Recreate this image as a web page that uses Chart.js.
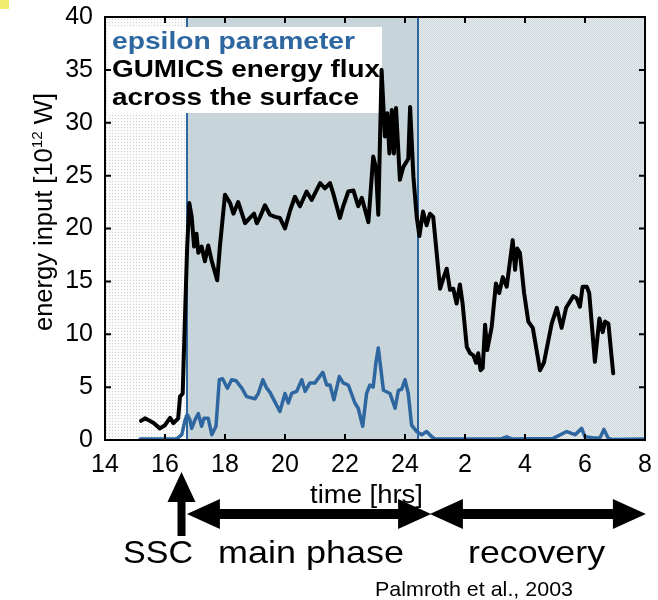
<!DOCTYPE html>
<html>
<head>
<meta charset="utf-8">
<script src="https://cdn.jsdelivr.net/npm/chart.js@4"></script>
<style>
html,body{margin:0;padding:0;background:#ffffff;}
#wrap{width:658px;height:600px;position:relative;}
</style>
</head>
<body>
<div id="wrap"><canvas id="c" width="658" height="600"></canvas></div>
<script>
// ---- data (time in hours; values after midnight continue as 25..32) ----
const gumicsTime = [15.2,15.33,15.61,15.83,16.0,16.17,16.28,16.44,16.5,16.59,16.67,16.74,16.81,16.89,16.97,17.05,17.11,17.22,17.33,17.44,17.56,17.74,17.83,18.0,18.17,18.28,18.44,18.67,18.83,18.97,19.06,19.17,19.33,19.5,19.67,19.83,20.0,20.17,20.33,20.5,20.72,20.89,21.17,21.33,21.5,21.61,21.83,21.94,22.11,22.28,22.44,22.56,22.78,22.94,23.03,23.11,23.22,23.33,23.41,23.48,23.56,23.63,23.7,23.83,23.94,24.11,24.17,24.28,24.39,24.48,24.6,24.72,24.83,24.94,25.17,25.28,25.39,25.5,25.61,25.72,25.83,25.92,26.06,26.17,26.28,26.37,26.44,26.52,26.59,26.67,26.74,26.89,27.03,27.14,27.26,27.39,27.59,27.67,27.74,27.83,27.97,28.11,28.26,28.5,28.63,28.89,29.06,29.22,29.37,29.5,29.61,29.72,29.83,29.92,30.06,30.14,30.33,30.48,30.59,30.67,30.78,30.94];
const gumicsFlux = [1.8,2.05,1.64,1.1,1.4,2.1,1.6,2.05,4.1,4.4,12,18.3,22.4,21.1,18.3,19.5,17.7,18.3,16.9,18.4,16.9,15.1,18.3,23.2,22.4,21.4,22.5,20.5,21.0,21.4,20.5,21.1,22.2,21.3,21.1,21.0,20.0,21.7,23.0,22.1,23.5,22.7,24.3,23.8,24.3,23.3,21.0,22.1,23.5,23.6,22.1,22.9,20.6,26.8,25.8,21.3,35.0,28.7,30.9,27.1,31.2,27.1,31.4,24.6,25.8,26.6,31.5,24.9,21.1,19.3,21.6,20.3,21.4,21.1,14.3,15.3,16.2,14.2,14.3,12.9,14.7,12.9,8.8,8.2,8.0,7.3,8.2,6.6,6.8,10.9,8.5,10.7,14.8,13.9,15.4,14.5,18.9,16.1,18.1,17.7,13.9,11.2,10.6,6.6,7.3,11.0,12.5,10.6,12.5,13.1,13.6,13.4,12.6,14.5,14.5,13.9,7.4,11.5,10.2,11.2,11.0,6.3];

const epsilonTime = [15.17,16.39,16.56,16.67,16.74,16.83,16.89,17.0,17.11,17.22,17.3,17.44,17.56,17.7,17.81,17.92,18.08,18.22,18.37,18.56,18.72,19.0,19.11,19.26,19.39,19.5,19.83,20.0,20.11,20.22,20.39,20.56,20.67,20.83,21.0,21.26,21.39,21.5,21.63,21.81,21.94,22.11,22.33,22.44,22.59,22.72,22.83,22.94,23.03,23.11,23.17,23.28,23.5,23.67,23.78,23.89,24.0,24.11,24.22,24.39,24.56,24.72,24.89,25.0,27.2,27.39,27.55,28.94,29.39,29.67,29.89,30.0,30.3,30.5,30.63,30.78,30.9,32];
const epsilonValue = [0.1,0.1,0.5,1.9,2.4,1.9,1.1,1.9,2.5,1.3,2.05,2.05,0.5,1.3,5.7,5.8,4.9,5.7,5.6,4.9,4.1,3.9,4.4,5.7,4.9,4.5,2.7,4.4,3.5,4.4,4.6,5.7,4.6,5.4,5.4,6.4,5.2,5.2,3.8,6.0,5.4,5.2,3.5,3.0,1.3,4.4,5.2,5.0,7.3,8.7,7.3,4.7,4.4,3.0,4.7,4.8,5.7,4.4,1.4,0.8,0.5,0.8,0.3,0.1,0.1,0.3,0.1,0.15,0.8,0.5,1.1,0.3,0.2,0.2,1.0,0.15,0.05,0.1];

const xTickLabels = ['14','16','18','20','22','24','2','4','6','8'];
const phaseBounds = [14, 16.73, 24.45, 32];   // pre-storm | main phase | recovery
const sscTime = 16.55;

const BLUE = '#2e66a0';
const FONT = "'Liberation Sans', Arial, Helvetica, sans-serif";
Chart.defaults.font.family = FONT;

function makePattern(size, bg, dots) {
  const c = document.createElement('canvas');
  c.width = size; c.height = size;
  const g = c.getContext('2d');
  g.fillStyle = bg; g.fillRect(0, 0, size, size);
  dots.forEach(d => { g.fillStyle = d[2]; g.fillRect(d[0], d[1], 1, 1); });
  return document.getElementById('c').getContext('2d').createPattern(c, 'repeat');
}
const leftFill = makePattern(3, '#fbfbfb', [[1,1,'#cdd2d5']]);
const mainFill = '#c7d4da';
const rightFill = makePattern(2, '#e6ecee', [[0,0,'#cdd7dc'],[1,1,'#cdd7dc']]);

function stretchText(ctx, txt, x, y, font, color, width) {
  ctx.save();
  ctx.font = font; ctx.fillStyle = color;
  ctx.textAlign = 'left'; ctx.textBaseline = 'alphabetic';
  const w = ctx.measureText(txt).width;
  ctx.translate(x, y); ctx.scale(width / w, 1);
  ctx.fillText(txt, 0, 0);
  ctx.restore();
}

function doubleArrow(ctx, x0, x1, yc) {
  const hl = 33, hh = 15, st = 5;
  ctx.beginPath();
  ctx.moveTo(x0, yc);
  ctx.lineTo(x0 + hl, yc - hh); ctx.lineTo(x0 + hl, yc - st);
  ctx.lineTo(x1 - hl, yc - st); ctx.lineTo(x1 - hl, yc - hh);
  ctx.lineTo(x1, yc);
  ctx.lineTo(x1 - hl, yc + hh); ctx.lineTo(x1 - hl, yc + st);
  ctx.lineTo(x0 + hl, yc + st); ctx.lineTo(x0 + hl, yc + hh);
  ctx.closePath(); ctx.fill();
}

const decorPlugin = {
  id: 'decor',
  beforeDatasetsDraw(chart) {
    const { ctx, chartArea: a, scales: { x } } = chart;
    const fills = [leftFill, mainFill, rightFill];
    ctx.save();
    for (let i = 0; i < 3; i++) {
      const x0 = x.getPixelForValue(phaseBounds[i]);
      const x1 = x.getPixelForValue(phaseBounds[i + 1]);
      ctx.fillStyle = fills[i];
      ctx.fillRect(x0, a.top, x1 - x0, a.bottom - a.top);
    }
    ctx.strokeStyle = BLUE; ctx.lineWidth = 2;
    [phaseBounds[1], phaseBounds[2]].forEach(t => {
      const px = Math.round(x.getPixelForValue(t));
      ctx.beginPath(); ctx.moveTo(px, a.top); ctx.lineTo(px, a.bottom); ctx.stroke();
    });
    // legend box
    ctx.fillStyle = '#ffffff';
    ctx.fillRect(109, 27, 273, 86);
    ctx.restore();
    stretchText(ctx, 'epsilon parameter', 112, 49, 'bold 24px ' + FONT, BLUE, 243);
    stretchText(ctx, 'GUMICS energy flux', 112, 77, 'bold 24px ' + FONT, '#000', 268);
    stretchText(ctx, 'across the surface', 112, 105, 'bold 24px ' + FONT, '#000', 247);
  },
  afterDraw(chart) {
    const { ctx, chartArea: a, scales: { x, y } } = chart;
    ctx.save();
    // frame
    ctx.strokeStyle = '#000'; ctx.lineWidth = 2;
    ctx.strokeRect(a.left, a.top, a.right - a.left, a.bottom - a.top);
    // inward ticks
    ctx.beginPath();
    x.ticks.forEach(t => {
      const px = x.getPixelForValue(t.value);
      ctx.moveTo(px, a.bottom); ctx.lineTo(px, a.bottom - 6);
      ctx.moveTo(px, a.top); ctx.lineTo(px, a.top + 6);
    });
    y.ticks.forEach(t => {
      const py = y.getPixelForValue(t.value);
      ctx.moveTo(a.left, py); ctx.lineTo(a.left + 6, py);
      ctx.moveTo(a.right, py); ctx.lineTo(a.right - 6, py);
    });
    ctx.stroke();

    // y title with superscript
    ctx.save();
    ctx.translate(52, 212);
    ctx.rotate(-Math.PI / 2);
    ctx.fillStyle = '#000';
    ctx.textBaseline = 'alphabetic'; ctx.textAlign = 'left';
    const f1 = '25px ' + FONT, f2 = '15px ' + FONT;
    ctx.font = f1; const w1 = ctx.measureText('energy input [10').width; const w3 = ctx.measureText(' W]').width;
    ctx.font = f2; const w2 = ctx.measureText('12').width;
    const tot = w1 + w2 + w3; const sx = 238 / tot;
    ctx.scale(sx, 1);
    let cx = -tot / 2;
    ctx.font = f1; ctx.fillText('energy input [10', cx, 0); cx += w1;
    ctx.font = f2; ctx.fillText('12', cx, -10); cx += w2;
    ctx.font = f1; ctx.fillText(' W]', cx, 0);
    ctx.restore();

    // x title
    stretchText(ctx, 'time [hrs]', 310, 503, '25px ' + FONT, '#000', 113);

    // phase arrows
    ctx.fillStyle = '#000';
    doubleArrow(ctx, x.getPixelForValue(16.73), x.getPixelForValue(24.87), 514);
    doubleArrow(ctx, x.getPixelForValue(24.83), x.getPixelForValue(32.03), 514);
    // SSC arrow
    const sx0 = x.getPixelForValue(sscTime);
    ctx.beginPath();
    ctx.moveTo(sx0, 472); ctx.lineTo(sx0 + 14, 502); ctx.lineTo(sx0 + 4, 502);
    ctx.lineTo(sx0 + 4, 536); ctx.lineTo(sx0 - 4, 536); ctx.lineTo(sx0 - 4, 502);
    ctx.lineTo(sx0 - 14, 502); ctx.closePath(); ctx.fill();

    stretchText(ctx, 'SSC', 123, 563, '32px ' + FONT, '#000', 70);
    stretchText(ctx, 'main phase', 218, 563, '32px ' + FONT, '#000', 186);
    stretchText(ctx, 'recovery', 468, 563, '32px ' + FONT, '#000', 137);
    stretchText(ctx, 'Palmroth et al., 2003', 375, 596, '21px ' + FONT, '#000', 198);

    // small yellow mark at top-left corner
    ctx.fillStyle = '#f1ec6e';
    ctx.fillRect(0, 0, 9, 9);
    ctx.restore();
  }
};

new Chart(document.getElementById('c'), {
  type: 'line',
  data: {
    datasets: [
      {
        label: 'GUMICS energy flux across the surface',
        data: gumicsTime.map((t, i) => ({ x: t, y: gumicsFlux[i] })),
        borderColor: '#000000', borderWidth: 4, borderJoinStyle: 'round', borderCapStyle: 'round',
        pointRadius: 0, tension: 0, fill: false
      },
      {
        label: 'epsilon parameter',
        data: epsilonTime.map((t, i) => ({ x: t, y: epsilonValue[i] })),
        borderColor: BLUE, borderWidth: 3.5, borderJoinStyle: 'round', borderCapStyle: 'round',
        pointRadius: 0, tension: 0, fill: false
      }
    ]
  },
  options: {
    responsive: false, animation: false, devicePixelRatio: 1,
    layout: { padding: { top: 17, right: 13, bottom: 120, left: 0 } },
    plugins: { legend: { display: false }, tooltip: { enabled: false } },
    scales: {
      x: {
        type: 'linear', min: 14, max: 32,
        afterFit(s) { s.height = 40; s.paddingLeft = 0; s.paddingRight = 0; },
        ticks: { stepSize: 2, autoSkip: false, maxRotation: 0, padding: 10, color: '#000',
                 font: { size: 25 }, callback: (v, i) => xTickLabels[i] },
        grid: { display: false, drawTicks: false }, border: { display: false }
      },
      y: {
        min: 0, max: 40,
        afterFit(s) { s.width = 105; s.paddingTop = 0; s.paddingBottom = 0; },
        ticks: { stepSize: 5, padding: 12, color: '#000', font: { size: 25 } },
        grid: { display: false, drawTicks: false }, border: { display: false }
      }
    }
  },
  plugins: [decorPlugin]
});
</script>
</body>
</html>
